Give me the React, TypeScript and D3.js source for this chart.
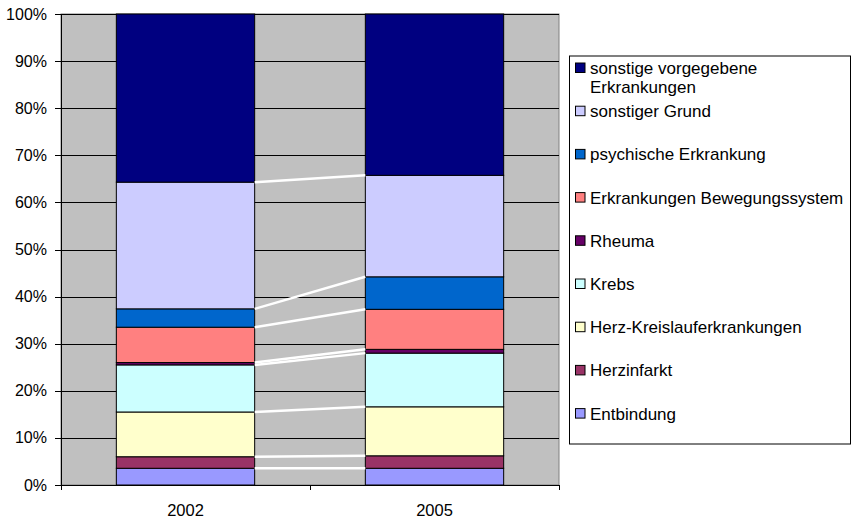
import React from 'react';
import * as d3 from 'd3';

const categories = ['2002', '2005'];
const seriesNames = [
  'Entbindung',
  'Herzinfarkt',
  'Herz-Kreislauferkrankungen',
  'Krebs',
  'Rheuma',
  'Erkrankungen Bewegungssystem',
  'psychische Erkrankung',
  'sonstiger Grund',
  'sonstige vorgegebene Erkrankungen',
];
const values2002 = [3.55, 2.45, 9.5, 10.0, 0.5, 7.5, 3.9, 26.9, 35.7];
const values2005 = [3.55, 2.65, 10.4, 11.4, 0.8, 8.5, 6.9, 21.55, 34.25];
const seriesColors = ['#9999FF', '#993366', '#FFFFCC', '#CCFFFF', '#660066', '#FF8080', '#0066CC', '#CCCCFF', '#000080'];
const yTicks = [0, 10, 20, 30, 40, 50, 60, 70, 80, 90, 100];
const legendLines: string[][] = [
  ['sonstige vorgegebene', 'Erkrankungen'],
  ['sonstiger Grund'],
  ['psychische Erkrankung'],
  ['Erkrankungen Bewegungssystem'],
  ['Rheuma'],
  ['Krebs'],
  ['Herz-Kreislauferkrankungen'],
  ['Herzinfarkt'],
  ['Entbindung'],
];

const W = 853;
const H = 520;
const PL = 61, PR = 559, PT = 14, PB = 485;
const FONT = 'Arial, "Liberation Sans", sans-serif';

export default function App() {
  const rows = categories.map((c, i) => {
    const vals = i === 0 ? values2002 : values2005;
    const o: any = { cat: c };
    seriesNames.forEach((s, k) => (o[s] = vals[k]));
    return o;
  });
  const stack = d3.stack<any>().keys(seriesNames);
  const stacked = stack(rows);

  const x = d3.scaleBand<string>().domain(categories).range([PL, PR]).padding(0);
  const barW = x.bandwidth() / 1.8;
  const barX = (c: string) => (x(c) as number) + (x.bandwidth() - barW) / 2;
  const y = d3.scaleLinear().domain([0, 100]).range([PB, PT]);

  const b1Right = barX(categories[0]) + barW;
  const b2Left = barX(categories[1]);

  const legendX = 569, legendY = 55.5, legendW = 281, legendH = 388;
  const rowY0 = 68.5, rowStep = 43.2;

  return (
    <svg width={W} height={H} style={{ position: 'absolute', left: 0, top: 0 }} fontFamily={FONT}>
      <rect x={0} y={0} width={W} height={H} fill="#fff" />
      {/* plot area */}
      <rect x={PL} y={PT} width={PR - PL} height={PB - PT} fill="#C0C0C0" stroke="#808080" strokeWidth={1} />
      {/* gridlines */}
      {yTicks.map((t) => (
        <line key={'g' + t} x1={PL} x2={PR} y1={Math.round(y(t)) + 0.5} y2={Math.round(y(t)) + 0.5} stroke="#000" strokeWidth={1} />
      ))}
      {/* bars */}
      {stacked.map((layer, k) =>
        layer.map((d, i) => {
          const c = categories[i];
          const y0 = y(d[0]);
          const y1 = y(d[1]);
          return (
            <rect key={k + '-' + i} x={barX(c)} y={y1} width={barW} height={y0 - y1}
              fill={seriesColors[k]} stroke="#000" strokeWidth={1} />
          );
        })
      )}
      {/* series lines */}
      {stacked.slice(0, -1).map((layer, k) => (
        <line key={'sl' + k} x1={b1Right} x2={b2Left} y1={y(layer[0][1])} y2={y(layer[1][1])} stroke="#fff" strokeWidth={2.5} />
      ))}
      {/* y axis */}
      <line x1={PL + 0.5} x2={PL + 0.5} y1={PT} y2={PB} stroke="#000" />
      {yTicks.map((t) => (
        <g key={'yt' + t}>
          <line x1={PL - 6} x2={PL} y1={Math.round(y(t)) + 0.5} y2={Math.round(y(t)) + 0.5} stroke="#000" />
          <text x={47} y={y(t)} textAnchor="end" dominantBaseline="central" fontSize={16} fill="#000">{t + '%'}</text>
        </g>
      ))}
      {/* x axis */}
      <line x1={PL} x2={PR + 1} y1={PB + 0.5} y2={PB + 0.5} stroke="#000" />
      {[PL, PL + x.bandwidth(), PR].map((tx, i) => (
        <line key={'xt' + i} x1={Math.round(tx) + 0.5} x2={Math.round(tx) + 0.5} y1={PB} y2={PB + 5} stroke="#000" />
      ))}
      {categories.map((c) => (
        <text key={'xl' + c} x={(x(c) as number) + x.bandwidth() / 2} y={516} textAnchor="middle" fontSize={16.5} fill="#000">{c}</text>
      ))}
      {/* legend */}
      <rect x={legendX + 0.5} y={legendY + 0.5} width={legendW} height={legendH} fill="#fff" stroke="#000" strokeWidth={1} />
      {legendLines.map((lines, i) => {
        const k = seriesNames.length - 1 - i;
        const ry = rowY0 + i * rowStep;
        return (
          <g key={'lg' + i}>
            <rect x={575.5} y={ry - 5.5} width={9.5} height={9.5} fill={seriesColors[k]} stroke="#000" strokeWidth={1} />
            {lines.map((ln, j) => (
              <text key={j} x={590} y={ry + j * 19} dominantBaseline="central" fontSize={17} fill="#000">{ln}</text>
            ))}
          </g>
        );
      })}
    </svg>
  );
}
